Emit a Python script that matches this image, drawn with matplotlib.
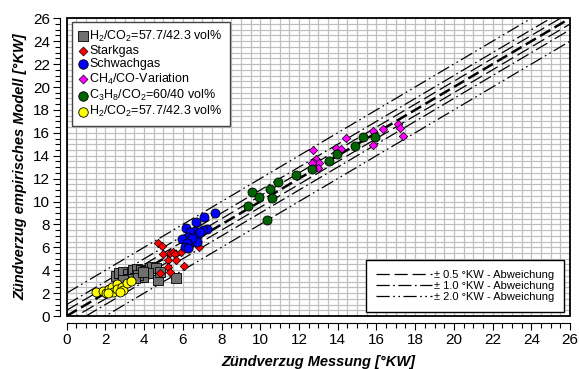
import matplotlib
matplotlib.use("Agg")
import matplotlib.pyplot as plt
import numpy as np
from matplotlib.patches import Rectangle
from matplotlib.lines import Line2D
from matplotlib.ticker import MultipleLocator

plt.rcParams['font.family'] = ['Liberation Sans', 'DejaVu Sans']
plt.rcParams['lines.scale_dashes'] = False
plt.rcParams['mathtext.fontset'] = 'custom'
plt.rcParams['mathtext.rm'] = 'Liberation Sans'

# H2/CO2 (gray squares)
h2_sq_x = [2.53, 2.72, 2.93, 3.15, 3.36, 3.44, 3.65, 3.84, 4.04, 4.30, 4.39, 4.61,
           4.73, 4.82, 4.21, 3.96, 3.70, 3.53, 3.18, 2.92, 5.67, 3.94]
h2_sq_y = [3.49, 3.73, 3.87, 3.67, 3.87, 4.02, 4.08, 4.02, 3.96, 4.17, 4.31, 4.17,
           3.14, 3.87, 3.73, 3.43, 3.58, 3.29, 3.20, 3.14, 3.30, 3.84]
# Starkgas (red diamonds)
stark_x = [4.73, 4.90, 4.99, 5.34, 5.51, 5.59, 5.25, 5.65, 5.89, 6.11, 6.28, 6.85,
           4.82, 5.25, 5.34, 6.06, 6.71]
stark_y = [6.35, 6.11, 5.41, 5.47, 5.62, 5.41, 4.89, 4.89, 5.62, 6.05, 6.35, 6.05,
           3.78, 4.25, 3.87, 4.39, 6.49]
# Schwachgas (blue circles)
schwach_x = [7.66, 7.09, 6.68, 6.16, 7.23, 7.05, 6.63, 6.37, 6.28, 5.94, 6.54, 6.71,
             6.75, 6.46, 6.20, 6.11, 6.28, 6.89]
schwach_y = [9.02, 8.67, 8.24, 7.71, 7.60, 7.51, 7.42, 7.37, 6.87, 6.70, 6.58, 6.99,
             6.49, 6.79, 6.35, 6.05, 5.91, 7.37]
# CH4/CO-Variation (magenta diamonds)
ch4_x = [12.70, 12.88, 12.77, 13.03, 13.00, 12.65, 13.91, 14.15, 14.43, 15.81, 16.35,
         17.13, 17.22, 17.39, 15.81]
ch4_y = [14.50, 13.69, 13.39, 13.34, 12.90, 13.39, 14.70, 14.56, 15.52, 16.19, 16.33,
         16.74, 16.39, 15.72, 14.91]
# C3H8/CO2 (green circles)
c3h8_x = [9.38, 9.56, 9.93, 10.50, 10.62, 10.93, 11.84, 10.33, 12.65, 13.56, 13.98,
          14.89, 15.32, 15.91]
c3h8_y = [9.61, 10.86, 10.42, 11.12, 10.31, 11.68, 12.35, 8.38, 12.84, 13.57, 14.15,
          14.88, 15.66, 15.66]
# H2/CO2 (yellow circles)
h2_ci_x = [1.51, 1.89, 2.03, 2.20, 2.32, 2.41, 2.58, 2.61, 2.84, 2.92, 3.10, 3.30,
           2.75, 2.15]
h2_ci_y = [2.12, 2.21, 1.98, 2.33, 2.56, 2.12, 2.79, 2.33, 2.56, 2.27, 2.85, 3.08,
           2.12, 2.04]

offsets = [0.5, 1.0, 2.0]
offset_labels = ['± 0.5 °KW - Abweichung', '± 1.0 °KW - Abweichung',
                 '± 2.0 °KW - Abweichung']

fig = plt.figure(figsize=(5.79, 3.69), dpi=100)
ax = fig.add_axes([0.1152, 0.1436, 0.8693, 0.8068])

xl = np.array([0, 26])
ax.plot(xl, xl, color='black', lw=1.8, ls=(0, (8.5, 3.5)), zorder=2)
styles = [(0, (9.5, 3.5)), (0, (9.5, 2.5, 1.2, 2.5)), (0, (9.5, 2.5, 1.2, 2.5, 1.2, 2.5))]
for off, st in zip(offsets, styles):
    ax.plot(xl, xl + off, color='black', lw=0.9, ls=st, zorder=2)
    ax.plot(xl, xl - off, color='black', lw=0.9, ls=st, zorder=2)

ms = 6.5
h1 = ax.scatter(h2_sq_x, h2_sq_y, marker='s', s=ms**2, c='#707070', edgecolors='black', lw=0.6, zorder=3)
h2 = ax.scatter(stark_x, stark_y, marker='D', s=4.3**2, c='#ff0000', edgecolors='black', lw=0.5, zorder=3)
h3 = ax.scatter(schwach_x, schwach_y, marker='o', s=ms**2, c='#0000ff', edgecolors='black', lw=0.6, zorder=3)
h4 = ax.scatter(ch4_x, ch4_y, marker='D', s=4.3**2, c='#ff00ff', edgecolors='black', lw=0.5, zorder=3)
h5 = ax.scatter(c3h8_x, c3h8_y, marker='o', s=ms**2, c='#006400', edgecolors='black', lw=0.6, zorder=3)
h6 = ax.scatter(h2_ci_x, h2_ci_y, marker='o', s=ms**2, c='#ffff00', edgecolors='black', lw=0.6, zorder=3)

ax.set_xlim(0, 26)
ax.set_ylim(0, 26)
ax.xaxis.set_major_locator(MultipleLocator(2))
ax.yaxis.set_major_locator(MultipleLocator(2))
ax.xaxis.set_minor_locator(MultipleLocator(0.5))
ax.yaxis.set_minor_locator(MultipleLocator(0.5))
ax.grid(True, which='both', color='#c0c0c0', lw=0.9, zorder=0)
ax.set_axisbelow(True)

for s in ['top', 'right']:
    ax.spines[s].set_visible(False)
ax.spines['left'].set_position(('outward', 5))
ax.spines['bottom'].set_position(('outward', 5))
ax.spines['left'].set_bounds(0, 26)
ax.spines['bottom'].set_bounds(0, 26)
ax.add_patch(Rectangle((0, 0), 1, 1, transform=ax.transAxes, fill=False,
                       ec='black', lw=1.3, clip_on=False, zorder=5))
ax.tick_params(which='major', direction='out', length=5, width=0.8, labelsize=11, pad=2)
ax.tick_params(which='minor', direction='out', length=3.5, width=0.8)

ax.set_xlabel('Zündverzug Messung [°KW]', fontsize=10.5, fontweight='bold', style='italic', labelpad=6)
ax.set_ylabel('Zündverzug empirisches Modell [°KW]', fontsize=10.5, fontweight='bold', style='italic', labelpad=4)

leg1 = ax.legend([h1, h2, h3, h4, h5, h6],
                 ['H$_2$/CO$_2$=57.7/42.3 vol%', 'Starkgas', 'Schwachgas',
                  'CH$_4$/CO-Variation', 'C$_3$H$_8$/CO$_2$=60/40 vol%',
                  'H$_2$/CO$_2$=57.7/42.3 vol%'],
                 loc='upper left', bbox_to_anchor=(0.0105, 0.988), borderaxespad=0,
                 fontsize=9, handlelength=0.6, handletextpad=0.25, labelspacing=0.1,
                 fancybox=False, framealpha=1, edgecolor='#444444', borderpad=0.55,
                 markerscale=1.05)
leg1.get_frame().set_linewidth(1.0)
ax.add_artist(leg1)

line_handles = [Line2D([], [], color='black', lw=0.9, ls=st) for st in styles]
leg2 = ax.legend(line_handles, offset_labels, loc='lower right',
                 bbox_to_anchor=(0.9887, 0.0134), borderaxespad=0, fontsize=8,
                 handlelength=5.0, handletextpad=0.2, labelspacing=0.08,
                 fancybox=False, framealpha=1, edgecolor='black', borderpad=0.9)
leg2.get_frame().set_linewidth(1.0)

fig.savefig('out.png', dpi=100)
